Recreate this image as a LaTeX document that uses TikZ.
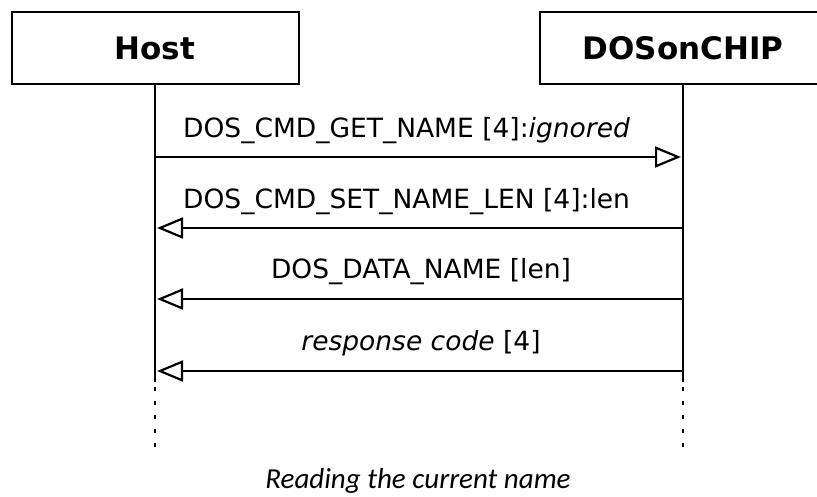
\documentclass[tikz,border=0pt]{standalone}
\usepackage{fontspec}
\setmainfont{DejaVu Sans}
\newfontfamily\captionfont{Carlito}
\usetikzlibrary{arrows.meta}

\tikzset{
    actor/.style={draw, line width=2pt, minimum width=287pt, minimum height=72pt,
        inner sep=0pt, font=\fontsize{31}{36}\selectfont\bfseries},
    lifeline/.style={line width=2pt},
    lifeend/.style={line width=2pt, dash pattern=on 4pt off 10pt},
    msg/.style={line width=2.2pt, shorten >=2pt,
        -{Triangle[open, length=26pt, width=21pt, line width=2.2pt]}},
    msglabel/.style={inner sep=0pt, font=\fontsize{26.5}{30}\selectfont},
}

\begin{document}
\begin{tikzpicture}[x=1pt, y=-1pt]
    \def\hx{155}
    \def\cx{683}

    \useasboundingbox (0, 0) rectangle (817, 496);
    \clip (0, 0) rectangle (817, 496);

    % participants
    \node[actor] (host) at (\hx, 48) {Host};
    \node[actor] (chip) at (\cx, 48) {DOSonCHIP};

    % lifelines
    \coordinate (hostend) at (\hx, 382);
    \coordinate (chipend) at (\cx, 382);
    \coordinate (hostfoot) at (\hx, 454);
    \coordinate (chipfoot) at (\cx, 454);
    \draw[lifeline] (host.south) -- (hostend);
    \draw[lifeline] (chip.south) -- (chipend);
    \draw[lifeend] ([yshift=-5pt]hostend) -- (hostfoot);
    \draw[lifeend] ([yshift=-5pt]chipend) -- (chipfoot);

    % messages
    \coordinate (h1) at (\hx, 157);
    \coordinate (c1) at (\cx, 157);
    \coordinate (h2) at (\hx, 228);
    \coordinate (c2) at (\cx, 228);
    \coordinate (h3) at (\hx, 299);
    \coordinate (c3) at (\cx, 299);
    \coordinate (h4) at (\hx, 371);
    \coordinate (c4) at (\cx, 371);

    \draw[msg] (h1) -- (c1);
    \draw[msg] (c2) -- (h2);
    \draw[msg] (c3) -- (h3);
    \draw[msg] (c4) -- (h4);

    \node[msglabel, anchor=west] (getname) at (183, 131)
        {DOS\_CMD\_GET\_NAME [4]:\textit{ignored}};
    \node[msglabel, anchor=west] (setlen) at (183, 202)
        {DOS\_CMD\_SET\_NAME\_LEN [4]:len};
    \node[msglabel] (dataname) at (421, 272) {DOS\_DATA\_NAME [len]};
    \node[msglabel] (response) at (421, 343) {\textit{response code} [4]};

    \node[inner sep=0pt, font=\captionfont\itshape\fontsize{29}{33}\selectfont]
        (caption) at (418, 481) {Reading the current name};
\end{tikzpicture}
\end{document}
